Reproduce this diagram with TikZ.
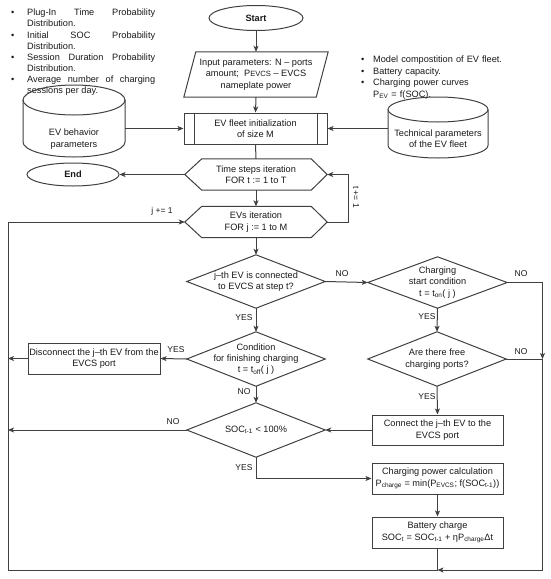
\documentclass[tikz,border=0pt]{standalone}
\usepackage{fontspec}
\setmainfont{Liberation Sans}
\usetikzlibrary{arrows.meta,shapes.geometric,calc}
\newcommand\bitem[2]{{\leftskip=#1\relax\hyphenpenalty=10000\exhyphenpenalty=10000\noindent\llap{\makebox[#1][l]{\textbullet}}#2\par}}
\begin{document}
\begin{tikzpicture}[x=1pt,y=-1pt,
  every node/.style={font=\fontsize{9.2}{11.3}\selectfont, text=black!90},
  ln/.style={draw=black!75, line width=1pt},
  arr/.style={ln, -{Stealth[length=6pt,width=5pt,inset=1.5pt]}},
  box/.style={draw=black!75, line width=1pt, rectangle, inner sep=1pt, align=center},
  ghost/.style={rectangle, inner sep=0pt, align=center},
  term/.style={ellipse, draw=black!75, line width=1pt, inner sep=0pt, font=\fontsize{9.2}{11.3}\selectfont\bfseries},
  lbl/.style={font=\fontsize{8.5}{10}\selectfont, inner sep=0pt},
  lst/.style={anchor=north west, inner sep=0pt}]
\useasboundingbox (0,0) rectangle (550,579);

% bullet lists
\node[lst, text width=144pt, align=justify, font=\fontsize{9.2}{11.1}\selectfont] (list1) at (11,9)
 {\bitem{16pt}{Plug-In Time Probability Distribution.}
  \bitem{16pt}{Initial SOC Probability Distribution.}
  \bitem{16pt}{Session Duration Probability Distribution.}
  \bitem{16pt}{Average number of charging sessions per day.}};
\node[lst, text width=160pt, align=left, font=\fontsize{9.2}{11.7}\selectfont] (list2) at (361,55.5)
 {\bitem{12pt}{Model compostition of EV fleet.}
  \bitem{12pt}{Battery capacity.}
  \bitem{12pt}{Charging power curves\newline P\textsubscript{EV} = f(SOC).}};

% top part
\node[term, minimum width=94pt, minimum height=25pt] (start) at (256,18) {Start};
\node[ghost, minimum width=132pt, minimum height=45pt] (input) at (256,74.5)
 {Input parameters: N – ports\\amount; \ P{\fontsize{7.6}{9}\selectfont EVCS} – EVCS\\nameplate power};
\draw[ln] ([xshift=6pt]input.north west) -- ([xshift=6pt]input.north east)
  -- ([xshift=-6pt]input.south east) -- ([xshift=-6pt]input.south west) -- cycle;
\node[box, minimum width=143pt, minimum height=31pt] (fleet) at (255.5,128.5) {EV fleet initialization\\of size M};
\draw[ln] ([xshift=10.5pt]fleet.north west) -- ([xshift=10.5pt]fleet.south west);
\draw[ln] ([xshift=-10.5pt]fleet.north east) -- ([xshift=-10.5pt]fleet.south east);

% cylinders
\draw[ln] (74,100) ellipse[x radius=51pt, y radius=15pt];
\draw[ln] (23,100) -- (23,142) arc[start angle=180, end angle=360, x radius=51pt, y radius=15pt] -- (125,100);
\node[ghost, minimum width=102pt] (behav) at (74,139) {EV behavior\\parameters};
\draw[ln] (438,109.5) ellipse[x radius=50pt, y radius=12.5pt];
\draw[ln] (388,109.5) -- (388,145.5) arc[start angle=180, end angle=360, x radius=50pt, y radius=12.5pt] -- (488,109.5);
\node[ghost, minimum width=100pt] (tech) at (438,139) {Technical parameters\\of the EV fleet};

% loops
\node[ghost, minimum width=142pt, minimum height=31pt] (time) at (256,174.5) {Time steps iteration\\FOR t := 1 to T};
\node[ghost, minimum width=142pt, minimum height=31pt] (loop) at (256,222) {EVs iteration\\FOR j := 1 to M};
\foreach \n in {time,loop}
  \draw[ln] (\n.west) -- ([xshift=17pt]\n.north west) -- ([xshift=-16pt]\n.north east) -- (\n.east)
    -- ([xshift=-16pt]\n.south east) -- ([xshift=17pt]\n.south west) -- cycle;
\node[term, minimum width=92pt, minimum height=23pt] (endn) at (73,174.5) {End};

% decisions
\node[ghost, minimum width=138pt, minimum height=53pt] (d1) at (256,281.5) {j–th EV is connected\\to EVCS at step t?};
\node[ghost, minimum width=139pt, minimum height=51pt] (d2) at (437.5,282.5) {Charging\\start condition\\t = t\textsubscript{on}( j )};
\node[ghost, minimum width=138pt, minimum height=54pt] (d3) at (437,359) {Are there free\\charging ports?};
\node[ghost, minimum width=138pt, minimum height=54pt] (d4) at (256,359) {Condition\\for finishing charging\\t = t\textsubscript{off}( j )};
\node[ghost, minimum width=138pt, minimum height=54pt] (d5) at (256,430) {SOC\textsubscript{t-1} < 100\%};
\foreach \n in {d1,d2,d3,d4,d5}
  \draw[ln] (\n.west) -- (\n.north) -- (\n.east) -- (\n.south) -- cycle;

% process boxes
\node[box, minimum width=132pt, minimum height=31pt] (disc) at (94,358.5) {Disconnect the j–th EV from the\\EVCS port};
\node[box, minimum width=131pt, minimum height=30pt] (conn) at (437.5,430) {Connect the j–th EV to the\\EVCS port};
\node[box, minimum width=131pt, minimum height=31pt] (calc) at (437.5,478.5) {Charging power calculation\\P\textsubscript{charge} = min(P\textsubscript{EVCS}; f(SOC\textsubscript{t-1}))};
\node[box, minimum width=131pt, minimum height=31pt] (batt) at (437.5,532.5) {Battery charge\\SOC\textsubscript{t} = SOC\textsubscript{t-1} + ηP\textsubscript{charge}Δt};

% helper coordinates
\coordinate (rj) at (542.5,359);
\coordinate (br) at (542.5,570);
\coordinate (bj) at (437.5,570);
\coordinate (bl) at (8,570);
\coordinate (tl) at (8,222);
\coordinate (lj1) at (8,358.5);
\coordinate (lj2) at (8,430);
\coordinate (lp) at (348,222);

% connectors
\draw[arr] (start) -- (input);
\draw[arr] (input.south) -- (fleet.north);
\draw[arr] (behav.east |- fleet.west) -- (fleet.west);
\draw[arr] (tech.west |- fleet.east) -- (fleet.east);
\draw[ln] (fleet.south) -- (time.north);
\draw[arr] (time.west) -- (endn.east);
\draw[arr] (time.south) -- (loop.north);
\draw[arr] (loop.east) -- (lp) |- (time.east);
\draw[arr] (loop.south) -- (d1.north);
\draw[arr] (d1.east) -- (d2.west);
\draw[arr] (d2.east) -| (rj);
\draw[ln] (d3.east) -- (rj);
\draw[arr] (rj) -- (br) -- (bj);
\draw[arr] (d2.south) -- (d3.north);
\draw[arr] (d3.south) -- (conn.north);
\draw[arr] (conn.west) -- (d5.east);
\draw[arr] (d1.south) -- (d4.north);
\draw[arr] (d4.west) -- (disc.east);
\draw[arr] (disc.west) -- (lj1);
\draw[arr] (d4.south) -- (d5.north);
\draw[arr] (d5.west) -- (lj2);
\draw[arr] (d5.south) |- (calc.west);
\draw[arr] (calc.south) -- (batt.north);
\draw[ln] (batt.south) -- (bj);
\draw[arr] (bj) -- (bl) -- (tl) -- (loop.west);

% labels
\node[lbl, rotate=-90] (tinc) at (356,197) {t += 1};
\node[lbl] (jinc) at (162,211) {j += 1};
\node[lbl] (l1) at (342,274) {NO};
\node[lbl] (l2) at (521,274) {NO};
\node[lbl] (l3) at (521,352) {NO};
\node[lbl] (l4) at (427,317) {YES};
\node[lbl] (l5) at (427,397) {YES};
\node[lbl] (l6) at (244,318) {YES};
\node[lbl] (l7) at (176,350) {YES};
\node[lbl] (l8) at (244,392) {NO};
\node[lbl] (l9) at (173,422) {NO};
\node[lbl] (l10) at (244,468) {YES};
\end{tikzpicture}
\end{document}
